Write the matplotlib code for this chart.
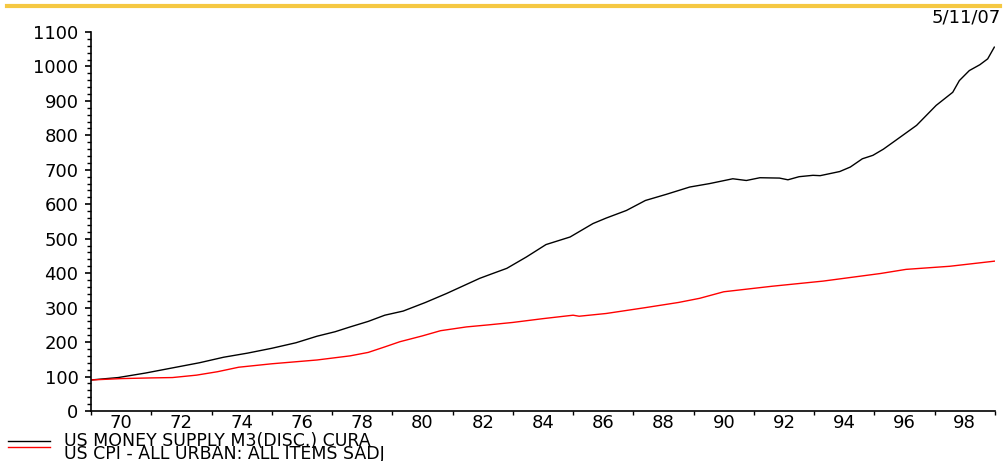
import matplotlib.pyplot as plt
from matplotlib.lines import Line2D

plt.rcParams['font.family'] = ['DejaVu Sans']

# US money supply M3
m3_years = [1969.0, 1969.9, 1970.8, 1971.7, 1972.6, 1973.4, 1974.2, 1975.0,
            1975.8, 1976.5, 1977.1, 1977.6, 1978.2, 1978.75, 1979.36, 1980.1,
            1980.8, 1981.4, 1981.9, 1982.3, 1982.8, 1983.45, 1984.1, 1984.9,
            1985.66, 1986.1, 1986.77, 1987.4, 1988.1, 1988.87, 1989.53, 1990.3,
            1990.75, 1991.2, 1991.85, 1992.13, 1992.5, 1992.96, 1993.2, 1993.85,
            1994.2, 1994.6, 1994.95, 1995.3, 1995.7, 1996.4, 1997.05, 1997.6,
            1997.82, 1998.15, 1998.5, 1998.76, 1998.98]
m3_values = [90, 97, 110, 125, 140, 156, 168, 182,
             198, 217, 230, 244, 260, 278, 290, 315,
             341, 365, 385, 398, 414, 447, 483, 505,
             544, 560, 582, 611, 629, 650, 660, 674,
             669, 677, 676, 671, 680, 684, 683, 695,
             708, 732, 742, 760, 785, 829, 887, 925,
             959, 988, 1005, 1022, 1056]

# US CPI all urban, all items
cpi_years = [1969.0, 1970.0, 1971.0, 1971.7, 1972.5, 1973.2, 1973.9, 1975.0,
             1976.5, 1977.6, 1978.2, 1978.75, 1979.25, 1980.0, 1980.6, 1981.46,
             1982.2, 1983.0, 1984.0, 1985.0, 1985.2, 1986.1, 1987.4, 1988.5,
             1989.2, 1990.0, 1991.6, 1993.3, 1995.2, 1996.05, 1997.5, 1999.0]
cpi_values = [90, 94, 96, 97, 104, 114, 127, 137,
              148, 160, 170, 186, 201, 218, 233, 244,
              250, 257, 268, 278, 275, 283, 300, 315,
              327, 346, 362, 377, 399, 411, 420, 435]

series_names = ['US MONEY SUPPLY M3(DISC.) CURA',
                'US CPI - ALL URBAN: ALL ITEMS SADJ']

major_years = list(range(1969, 2000, 2))
label_years = list(range(1970, 1999, 2))
labels = [str(y)[2:] for y in label_years]

fs = 13

fig = plt.figure(figsize=(10.07, 4.61), dpi=100)
ax = fig.add_axes([0.0904, 0.1085, 0.8976, 0.8221])

ax.plot(m3_years, m3_values, color='black', lw=1)
ax.plot(cpi_years, cpi_values, color='red', lw=1)

ax.set_xlim(1969, 1999)
ax.set_ylim(0, 1100)

ax.set_xticks(major_years)
ax.set_xticklabels([])
ax.set_xticks(label_years, minor=True)
ax.set_xticklabels(labels, minor=True, fontsize=fs)
ax.tick_params(axis='x', which='major', direction='out', length=3, width=1)
ax.tick_params(axis='x', which='minor', length=0, pad=2.5)

ax.set_yticks(range(0, 1101, 100))
ax.set_yticks(range(0, 1101, 20), minor=True)
ax.tick_params(axis='y', which='major', direction='out', length=4, width=1.2,
               labelsize=fs, pad=5)
ax.tick_params(axis='y', which='minor', direction='out', length=3, width=1)

for s in ['top', 'right']:
    ax.spines[s].set_visible(False)
ax.spines['left'].set_linewidth(1.2)
ax.spines['bottom'].set_linewidth(1.2)

# yellow rule at top and date stamp
fig.add_artist(Line2D([0.007, 0.993], [0.988, 0.988], color='#F5C842', lw=3))
fig.text(0.994, 0.963, '5/11/07', ha='right', va='center', fontsize=fs)

# legend rows below the axis (tight rows, the second one runs off the bottom)
fig.add_artist(Line2D([0.008, 0.05], [0.043, 0.043], color='black', lw=1))
fig.add_artist(Line2D([0.008, 0.05], [0.030, 0.030], color='red', lw=1))
fig.text(0.064, 0.063, '\n'.join(series_names), ha='left', va='top',
         fontsize=12.5, linespacing=0.68)

fig.savefig('out.png', dpi=100)
